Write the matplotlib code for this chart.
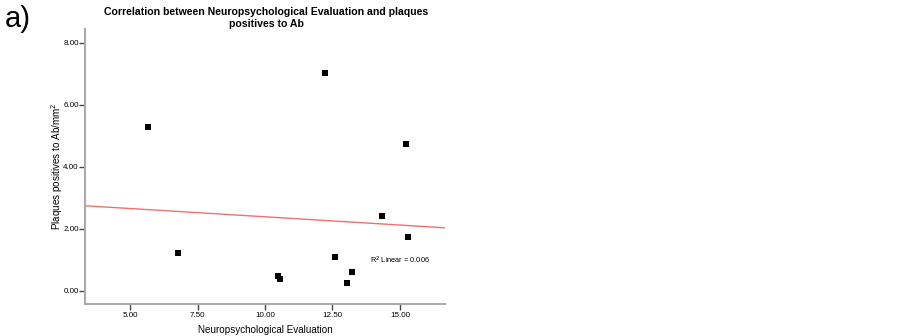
import numpy as np
import matplotlib
matplotlib.use("Agg")
import matplotlib.pyplot as plt

plt.rcParams['font.family'] = ['Liberation Sans', 'DejaVu Sans']

neuro_eval = [5.67, 6.78, 12.22, 15.22, 14.33, 15.30, 12.59, 13.22, 13.04, 10.48, 10.55]
plaques = [5.29, 1.23, 7.03, 4.74, 2.42, 1.74, 1.10, 0.61, 0.26, 0.48, 0.39]
xticks = [5.0, 7.5, 10.0, 12.5, 15.0]
yticks = [0.0, 2.0, 4.0, 6.0, 8.0]

fig = plt.figure(figsize=(9.03, 3.36), dpi=100)
ax = fig.add_axes([85/903, 1-304/336, 360/903, 275/336])

xlim = (3.33, 16.67)
ax.set_xlim(*xlim)
ax.set_ylim(-0.42, 8.45)

ax.scatter(neuro_eval, plaques, marker='s', s=14, color='black', zorder=3, linewidths=0)

slope, intercept = np.polyfit(neuro_eval, plaques, 1)
xs = np.array(xlim)
ax.plot(xs, intercept + slope * xs, color='#f07070', lw=1.0, zorder=2)

ax.text(13.9, 1.0, r'R$^2$ Linear = 0.006', fontsize=5.3, va='center', ha='left')

ax.set_xticks(xticks)
ax.set_xticklabels([f'{v:.2f}' for v in xticks])
ax.set_yticks(yticks)
ax.set_yticklabels([f'{v:.2f}' for v in yticks])
ax.tick_params(axis='both', labelsize=5.8, length=4, width=1, color='#444444')
ax.tick_params(axis='y', pad=0.5)
ax.tick_params(axis='x', pad=2)

for s in ['top', 'right']:
    ax.spines[s].set_visible(False)
for s in ['left', 'bottom']:
    ax.spines[s].set_color('#aaaaaa')
    ax.spines[s].set_linewidth(1.5)

ax.set_xlabel('Neuropsychological Evaluation', fontsize=7.1, labelpad=4)
ax.set_ylabel('Plaques positives to Ab/mm$^2$', fontsize=7.1, labelpad=-1)

fig.text(266/903, 1-18/336, 'Correlation between Neuropsychological Evaluation and plaques\npositives to Ab',
         ha='center', va='center', fontsize=7.6, fontweight='bold', linespacing=1.35)
fig.text(5/903, 1-19/336, 'a)', ha='left', va='center', fontsize=21)

fig.savefig('out.png', dpi=100)
